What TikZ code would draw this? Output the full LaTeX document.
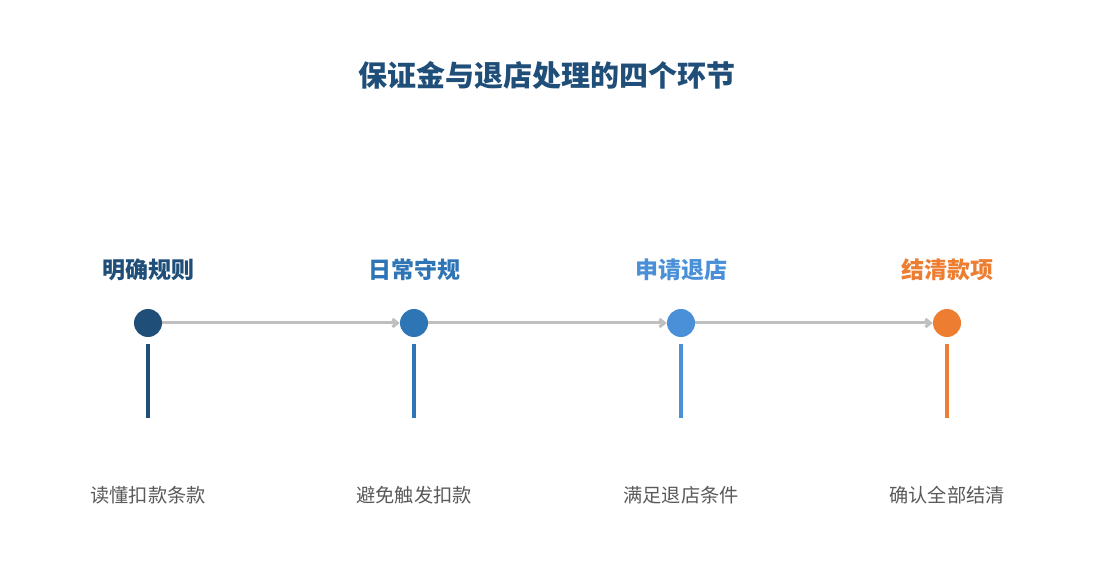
\documentclass[tikz,border=0pt]{standalone}
\usepackage{fontspec}
\setmainfont{Noto Sans CJK SC}
\usetikzlibrary{arrows.meta}
\definecolor{c1}{HTML}{1F4E79}
\definecolor{c2}{HTML}{2E75B6}
\definecolor{c3}{HTML}{4A90D9}
\definecolor{c4}{HTML}{ED7D31}
\definecolor{gr}{HTML}{BFBFBF}
\definecolor{tx}{HTML}{595959}
\begin{document}
\begin{tikzpicture}[x=1pt,y=-1pt,
  dot/.style={circle,fill=#1,minimum size=28pt,inner sep=0pt},
  head/.style={font=\fontsize{23}{27}\selectfont\bfseries,text=#1},
  lab/.style={font=\fontsize{19.2}{23}\selectfont,text=tx},
  bar/.style={line width=3.5pt,draw=#1},
  conn/.style={draw=gr,line width=3pt,-{Straight Barb[length=5pt,width=8pt]}}]
\useasboundingbox (0,0) rectangle (1095,585);
\node[font=\fontsize{29}{34}\selectfont\bfseries,text=c1] (title) at (547,75) {保证金与退店处理的四个环节};
\foreach \i/\x/\c/\h/\l in {1/148/c1/明确规则/读懂扣款条款,2/414/c2/日常守规/避免触发扣款,3/681/c3/申请退店/满足退店条件,4/947/c4/结清款项/确认全部结清}{
  \node[dot=\c] (d\i) at (\x,323) {};
  \node[head=\c] (h\i) at (\x,270) {\h};
  \node[lab] (l\i) at (\x,495) {\l};
  \coordinate (t\i) at (\x,344);
  \coordinate (b\i) at (\x,418);
  \draw[bar=\c] (t\i) -- (b\i);
}
\draw[conn] (d1) -- (d2);
\draw[conn] (d2) -- (d3);
\draw[conn] (d3) -- (d4);
\end{tikzpicture}
\end{document}
